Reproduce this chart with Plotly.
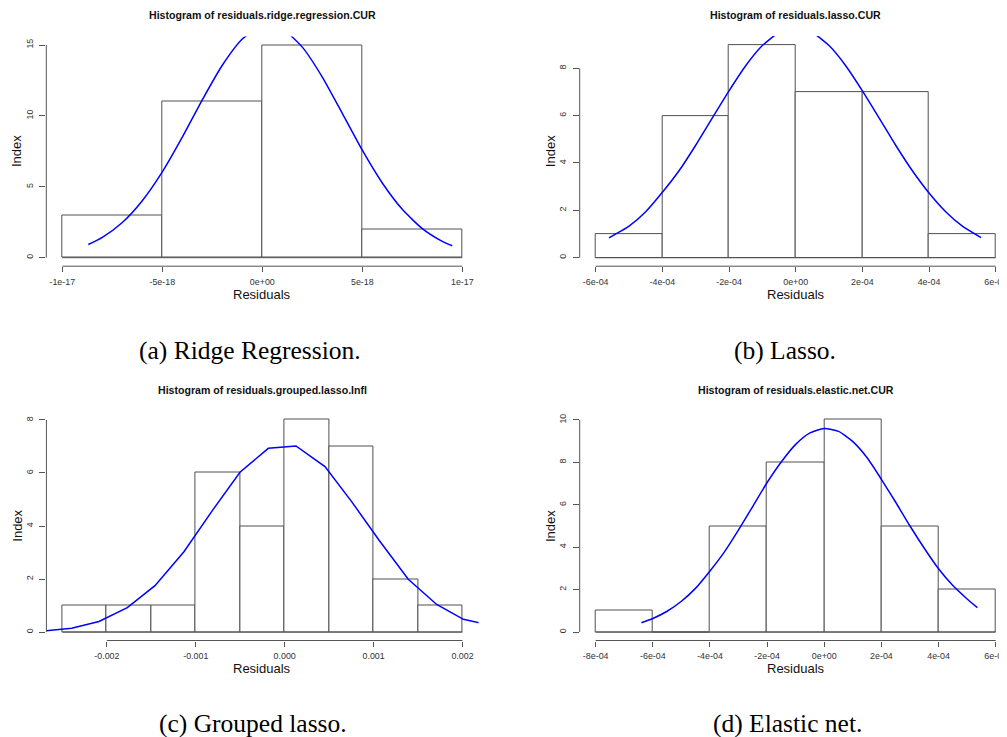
import plotly.graph_objects as go

# The page body adds an 8 px margin, so the figure is drawn 8 px in from the
# window corner; the figure is sized so that it ends at the window edge.
OFF = 8
W, H = 1007 - OFF, 737 - OFF

# ---------------- data ----------------
# (a) ridge regression
ridge_breaks = [-1e-17, -5e-18, 0.0, 5e-18, 1e-17]
ridge_counts = [3, 11, 15, 2]
ridge_curve_x = [-8.7e-18, -8e-18, -7e-18, -6e-18, -5e-18, -4e-18, -3e-18, -2e-18, -1e-18, 0.0,
                 1e-18, 2e-18, 3e-18, 4e-18, 5e-18, 6e-18, 7e-18, 8e-18, 9e-18, 9.5e-18]
ridge_curve_y = [0.93, 1.43, 2.48, 4.02, 6.05, 8.50, 11.13, 13.57, 15.42, 16.34,
                 16.13, 14.85, 12.74, 10.18, 7.58, 5.27, 3.41, 2.05, 1.15, 0.84]
ridge_xticks = [-1e-17, -5e-18, 0.0, 5e-18, 1e-17]
ridge_xlabels = ["-1e-17", "-5e-18", "0e+00", "5e-18", "1e-17"]
ridge_yticks = [0, 5, 10, 15]

# (b) lasso
lasso_breaks = [-6e-4, -4e-4, -2e-4, 0.0, 2e-4, 4e-4, 6e-4]
lasso_counts = [1, 6, 9, 7, 7, 1]
lasso_curve_x = [-5.6e-4, -5.0e-4, -4.5e-4, -4.0e-4, -3.5e-4, -3.0e-4, -2.5e-4, -2.0e-4, -1.5e-4,
                 -1.0e-4, -0.5e-4, 0.0, 0.5e-4, 1.0e-4, 1.5e-4, 2.0e-4, 2.5e-4, 3.0e-4, 3.5e-4,
                 4.0e-4, 4.5e-4, 5.0e-4, 5.56e-4]
lasso_curve_y = [0.84, 1.33, 1.94, 2.76, 3.67, 4.75, 5.91, 7.05, 8.11,
                 8.96, 9.51, 9.70, 9.51, 8.96, 8.11, 7.05, 5.91, 4.75, 3.67,
                 2.73, 1.94, 1.33, 0.85]
lasso_xticks = [-6e-4, -4e-4, -2e-4, 0.0, 2e-4, 4e-4, 6e-4]
lasso_xlabels = ["-6e-04", "-4e-04", "-2e-04", "0e+00", "2e-04", "4e-04", "6e-04"]
lasso_yticks = [0, 2, 4, 6, 8]

# (c) grouped lasso
glasso_breaks = [-0.0025, -0.002, -0.0015, -0.001, -0.0005, 0.0, 0.0005, 0.001, 0.0015, 0.002]
glasso_counts = [1, 1, 1, 6, 4, 8, 7, 2, 1]
glasso_curve_x = [-2.71e-3, -2.396e-3, -2.089e-3, -1.77e-3, -1.459e-3, -1.133e-3, -0.81e-3,
                  -0.503e-3, -0.184e-3, 0.127e-3, 0.453e-3, 0.753e-3, 1.06e-3, 1.39e-3,
                  1.71e-3, 2.01e-3, 2.33e-3]
glasso_curve_y = [0.04, 0.14, 0.40, 0.92, 1.75, 3.03, 4.60,
                  6.03, 6.93, 7.02, 6.24, 4.92, 3.47, 1.99,
                  1.04, 0.48, 0.24]
glasso_xticks = [-0.002, -0.001, 0.0, 0.001, 0.002]
glasso_xlabels = ["-0.002", "-0.001", "0.000", "0.001", "0.002"]
glasso_yticks = [0, 2, 4, 6, 8]

# (d) elastic net
enet_breaks = [-8e-4, -6e-4, -4e-4, -2e-4, 0.0, 2e-4, 4e-4, 6e-4]
enet_counts = [1, 0, 5, 8, 10, 5, 2]
enet_curve_x = [-6.4e-4, -6.0e-4, -5.5e-4, -5.0e-4, -4.5e-4, -4.0e-4, -3.5e-4, -3.0e-4, -2.5e-4,
                -2.0e-4, -1.5e-4, -1.0e-4, -0.5e-4, 0.0, 0.5e-4, 1.0e-4, 1.5e-4, 2.0e-4,
                2.5e-4, 3.0e-4, 3.5e-4, 4.0e-4, 4.5e-4, 5.0e-4, 5.36e-4]
enet_curve_y = [0.44, 0.64, 0.98, 1.45, 2.07, 2.88, 3.77, 4.82, 5.93,
                7.05, 8.03, 8.85, 9.39, 9.60, 9.46, 8.98, 8.22, 7.20,
                6.12, 5.00, 3.95, 2.98, 2.19, 1.56, 1.15]
enet_xticks = [-8e-4, -6e-4, -4e-4, -2e-4, 0.0, 2e-4, 4e-4, 6e-4]
enet_xlabels = ["-8e-04", "-6e-04", "-4e-04", "-2e-04", "0e+00", "2e-04", "4e-04", "6e-04"]
enet_yticks = [0, 2, 4, 6, 8, 10]

titles = ["Histogram of residuals.ridge.regression.CUR",
          "Histogram of residuals.lasso.CUR",
          "Histogram of residuals.grouped.lasso.Infl",
          "Histogram of residuals.elastic.net.CUR"]
captions = ["(a) Ridge Regression.", "(b) Lasso.", "(c) Grouped lasso.", "(d) Elastic net."]
x_label = "Residuals"
y_label = "Index"


# ---------------- layout geometry (window pixels -> paper) ----------------
def px_x(p):
    return (p - OFF) / W


def px_y(p):
    return 1 - (p - OFF) / H


panels = [
    dict(breaks=ridge_breaks, counts=ridge_counts, cx=ridge_curve_x, cy=ridge_curve_y,
         xt=ridge_xticks, xl=ridge_xlabels, yt=ridge_yticks, spline=True,
         xdom=(46.3, 478.3), ydom=(36.5, 266.2),
         xr=[-1.08e-17, 1.08e-17], yr=[-0.6, 15.6],
         title_xy=(262.3, 15.3), xlab_y=294.0, ylab_x=16.7, cap_xy=(250, 350)),
    dict(breaks=lasso_breaks, counts=lasso_counts, cx=lasso_curve_x, cy=lasso_curve_y,
         xt=lasso_xticks, xl=lasso_xlabels, yt=lasso_yticks, spline=True,
         xdom=(579.7, 1007), ydom=(36.1, 266.2),
         xr=[-6.48e-4, 6.339e-4], yr=[-0.36, 9.36],
         title_xy=(795.7, 15.3), xlab_y=294.0, ylab_x=550.0, cap_xy=(785, 350)),
    dict(breaks=glasso_breaks, counts=glasso_counts, cx=glasso_curve_x, cy=glasso_curve_y,
         xt=glasso_xticks, xl=glasso_xlabels, yt=glasso_yticks, spline=False,
         xdom=(46.4, 478.5), ydom=(411.5, 640.5),
         xr=[-0.00268, 0.00218], yr=[-0.32, 8.32],
         title_xy=(262.3, 390.3), xlab_y=668.3, ylab_x=16.7, cap_xy=(252.5, 723)),
    dict(breaks=enet_breaks, counts=enet_counts, cx=enet_curve_x, cy=enet_curve_y,
         xt=enet_xticks, xl=enet_xlabels, yt=enet_yticks, spline=True,
         xdom=(579.7, 1007), ydom=(411.5, 640.5),
         xr=[-8.56e-4, 6.3955e-4], yr=[-0.4, 10.4],
         title_xy=(795.7, 390.3), xlab_y=668.3, ylab_x=550.0, cap_xy=(787, 723)),
]

SANS = "Liberation Sans, Arial, sans-serif"
SERIF = "Liberation Serif, Times New Roman, serif"
EDGE = "#505050"
AXC = "#555555"

fig = go.Figure()
layout = dict(width=W, height=H, margin=dict(l=0, r=0, t=0, b=0), autosize=False,
              paper_bgcolor="white", plot_bgcolor="white", showlegend=False,
              hovermode=False)
shapes = []
annotations = []

for i, p in enumerate(panels):
    n = "" if i == 0 else str(i + 1)
    xa, ya = "x" + n, "y" + n
    br = p["breaks"]
    centers = [(br[k] + br[k + 1]) / 2 for k in range(len(br) - 1)]
    widths = [br[k + 1] - br[k] for k in range(len(br) - 1)]

    fig.add_trace(go.Bar(x=centers, y=p["counts"], width=widths,
                         marker=dict(color="white", line=dict(color=EDGE, width=1)),
                         xaxis=xa, yaxis=ya))
    fig.add_trace(go.Scatter(x=[br[0], br[-1]], y=[0, 0], mode="lines",
                             line=dict(color=EDGE, width=1), xaxis=xa, yaxis=ya))
    fig.add_trace(go.Scatter(x=p["cx"], y=p["cy"], mode="lines",
                             line=dict(color="#0000ff", width=1.5,
                                       shape="spline" if p["spline"] else "linear",
                                       smoothing=0.6),
                             xaxis=xa, yaxis=ya))

    layout["xaxis" + n] = dict(
        domain=[max(0.0, px_x(p["xdom"][0])), min(1.0, px_x(p["xdom"][1]))],
        range=p["xr"], anchor=ya, tickmode="array", tickvals=p["xt"], ticktext=p["xl"],
        ticks="outside", ticklen=5, tickwidth=1, tickcolor=AXC,
        showline=False, showgrid=False, zeroline=False, fixedrange=True,
        ticklabeloverflow="allow",
        tickfont=dict(family=SANS, size=8.9, color="#333333"), ticklabelstandoff=2)
    layout["yaxis" + n] = dict(
        domain=[px_y(p["ydom"][1]), px_y(p["ydom"][0])],
        range=p["yr"], anchor=xa, tickmode="array", tickvals=p["yt"],
        ticktext=[str(v) for v in p["yt"]], tickangle=-90,
        ticks="outside", ticklen=6, tickwidth=1, tickcolor=AXC,
        showline=False, showgrid=False, zeroline=False, fixedrange=True,
        ticklabeloverflow="allow",
        tickfont=dict(family=SANS, size=8.9, color="#333333"), ticklabelstandoff=3)

    # R-style axis lines spanning first..last tick
    shapes.append(dict(type="line", xref=xa, yref=ya + " domain",
                       x0=p["xt"][0], x1=p["xt"][-1], y0=0, y1=0,
                       line=dict(color=AXC, width=1)))
    shapes.append(dict(type="line", xref=xa + " domain", yref=ya,
                       x0=0, x1=0, y0=p["yt"][0], y1=p["yt"][-1],
                       line=dict(color=AXC, width=1)))

    annotations.append(dict(text="<b>%s</b>" % titles[i], xref="paper", yref="paper",
                            x=px_x(p["title_xy"][0]), y=px_y(p["title_xy"][1]),
                            xanchor="center", yanchor="middle", showarrow=False,
                            font=dict(family=SANS, size=10.6, color="#111111")))
    annotations.append(dict(text=x_label, xref="paper", yref="paper",
                            x=px_x(p["title_xy"][0]), y=px_y(p["xlab_y"]),
                            xanchor="center", yanchor="middle", showarrow=False,
                            font=dict(family=SANS, size=13, color="#111111")))
    annotations.append(dict(text=y_label, xref="paper", yref="paper", textangle=-90,
                            x=px_x(p["ylab_x"]),
                            y=px_y((p["ydom"][0] + p["ydom"][1]) / 2),
                            xanchor="center", yanchor="middle", showarrow=False,
                            font=dict(family=SANS, size=13, color="#111111")))
    annotations.append(dict(text=captions[i], xref="paper", yref="paper",
                            x=px_x(p["cap_xy"][0]), y=px_y(p["cap_xy"][1]),
                            xanchor="center", yanchor="middle", showarrow=False,
                            font=dict(family=SERIF, size=25.5, color="#000000")))

layout["shapes"] = shapes
layout["annotations"] = annotations
layout["bargap"] = 0
fig.update_layout(**layout)
fig.write_html("out.html", config={"displayModeBar": False})
